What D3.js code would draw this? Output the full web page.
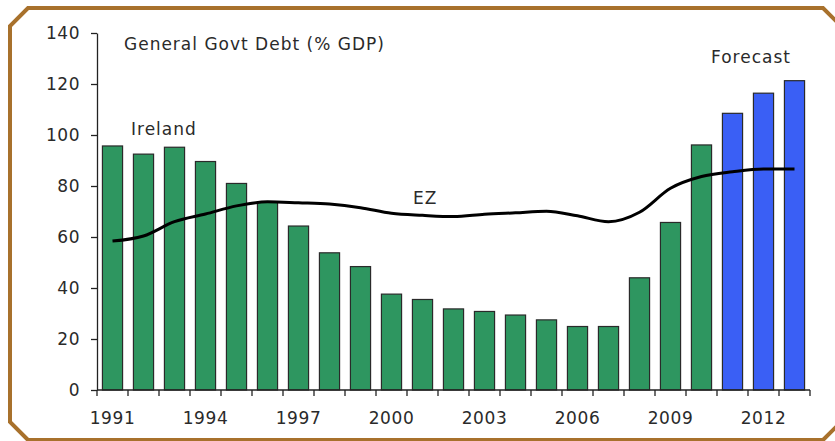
<!DOCTYPE html>
<html>
<head>
<meta charset="utf-8">
<script src="https://cdn.jsdelivr.net/npm/d3@7"></script>
<style>
  body { margin: 0; background: #fff; }
  svg { display: block; font-family: "DejaVu Sans", Arial, sans-serif; }
</style>
</head>
<body>
<div id="chart"><svg></svg></div>
<script>
// data
var years = d3.range(1991, 2014)
var ireland = [95.7, 92.5, 95.2, 89.6, 81.0, 73.8, 64.3, 53.8, 48.4, 37.6, 35.5, 31.8, 30.8, 29.4, 27.5, 24.9, 24.9, 44.0, 65.7, 96.1, 108.5, 116.4, 121.3]
var ez = [58.4, 60.4, 66.0, 69.0, 72.2, 73.8, 73.4, 72.9, 71.5, 69.3, 68.5, 68.0, 68.9, 69.5, 70.1, 68.3, 66.0, 69.7, 79.1, 83.7, 85.6, 86.7, 86.7]
var forecastFrom = 2011
var yTicks = [0, 20, 40, 60, 80, 100, 120, 140]
var xLabels = [1991, 1994, 1997, 2000, 2003, 2006, 2009, 2012]

var W = 835, H = 441
var mLeft = 97, mRight = 810, mTop = 33, mBottom = 390
var fontSize = 17

var svg = d3.select("#chart svg")
  .attr("width", W)
  .attr("height", H)

// frame
svg.append("path")
  .attr("d", "M28,8 L823,8 L843,28 L843,420 L823,440 L28,440 L10,422 L10,26 Z")
  .attr("fill", "#fff")
  .attr("stroke", "#a8712c")
  .attr("stroke-width", 4)

var x = d3.scaleBand()
  .domain(years)
  .range([mLeft, mRight])
  .paddingInner(0.35)
  .paddingOuter(0.175)

var y = d3.scaleLinear()
  .domain([0, 140])
  .range([mBottom, mTop])

// bars
svg.append("g")
  .selectAll("rect")
  .data(years)
  .join("rect")
  .attr("x", d => x(d))
  .attr("y", (d, i) => y(ireland[i]))
  .attr("width", x.bandwidth())
  .attr("height", (d, i) => mBottom - y(ireland[i]))
  .attr("fill", d => d >= forecastFrom ? "#3a5ff5" : "#2e9660")
  .attr("stroke", "#2a2a2a")
  .attr("stroke-width", 1.2)

// EZ line
var line = d3.line()
  .x((d, i) => x(years[i]) + x.bandwidth() / 2)
  .y(d => y(d))
  .curve(d3.curveMonotoneX)

svg.append("path")
  .datum(ez)
  .attr("d", line)
  .attr("fill", "none")
  .attr("stroke", "#000")
  .attr("stroke-width", 3)

// y axis
var yAxis = svg.append("g")
  .attr("transform", `translate(${mLeft},0)`)
  .call(d3.axisLeft(y).tickValues(yTicks).tickSize(6).tickPadding(11).tickSizeOuter(0))
yAxis.select(".domain").attr("stroke", "#222").attr("stroke-width", 1.3)
yAxis.selectAll(".tick line").attr("stroke", "#222").attr("stroke-width", 1.3)
yAxis.selectAll("text")
  .attr("font-size", fontSize)
  .attr("fill", "#2a2a2a")
  .style("font-family", "DejaVu Sans, Arial, sans-serif")
  .style("letter-spacing", "0.5px")

// x axis: ticks at band edges
var xg = svg.append("g")
  .attr("transform", `translate(0,${mBottom})`)
xg.append("line")
  .attr("x1", mLeft).attr("x2", mRight)
  .attr("stroke", "#222").attr("stroke-width", 1.3)
var step = x.step()
xg.selectAll(".tk")
  .data(years.concat([2014]))
  .join("line")
  .attr("class", "tk")
  .attr("x1", (d, i) => mLeft + i * step)
  .attr("x2", (d, i) => mLeft + i * step)
  .attr("y1", 0).attr("y2", 6)
  .attr("stroke", "#222").attr("stroke-width", 1.3)
xg.selectAll("text")
  .data(xLabels)
  .join("text")
  .attr("x", d => x(d) + x.bandwidth() / 2)
  .attr("y", 34)
  .attr("text-anchor", "middle")
  .attr("font-size", fontSize)
  .attr("fill", "#2a2a2a")
  .style("letter-spacing", "0.6px")
  .text(d => d)

// annotations
var notes = [
  { t: "General Govt Debt (% GDP)", x: 124, y: 50 },
  { t: "Ireland", x: 131, y: 135 },
  { t: "EZ", x: 413, y: 204 },
  { t: "Forecast", x: 711, y: 63 }
]
svg.selectAll(".note")
  .data(notes)
  .join("text")
  .attr("class", "note")
  .attr("x", d => d.x)
  .attr("y", d => d.y)
  .attr("font-size", fontSize)
  .attr("fill", "#2a2a2a")
  .style("letter-spacing", "1px")
  .text(d => d.t)
</script>
</body>
</html>
